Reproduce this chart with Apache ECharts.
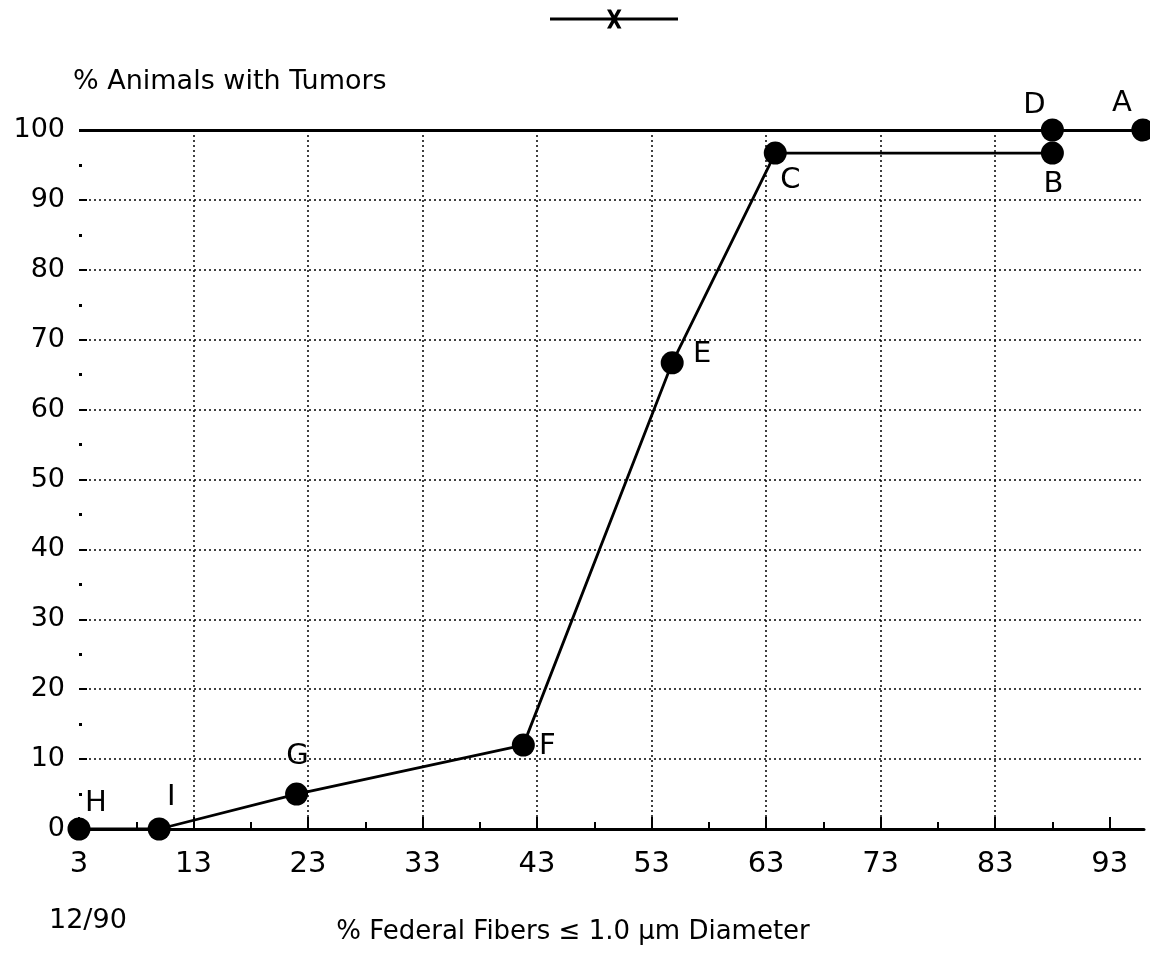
<!DOCTYPE html>
<html>
<head>
<meta charset="utf-8">
<script src="https://cdn.jsdelivr.net/npm/echarts@6/dist/echarts.min.js"></script>
<style>
  html, body { margin: 0; padding: 0; background: #fff; }
  #chart { width: 1150px; height: 959px; }
</style>
</head>
<body>
<div id="chart"></div>
<script>
// Fiber-size dose/response: % animals with tumors vs % fibers <= 1.0 um
const pointNames = ['H', 'I', 'G', 'F', 'E', 'C', 'B'];
const fiberPct   = [3, 10, 22, 41.8, 54.8, 63.8, 88];
const tumorPct   = [0, 0, 5, 12, 66.7, 96.7, 96.7];

// Groups at the 100% level
const topNames = ['D', 'A'];
const topFiber = [88, 95.9];
const topTumor = [100, 100];

const xTicks = [3, 13, 23, 33, 43, 53, 63, 73, 83, 93];
const yTicks = [0, 10, 20, 30, 40, 50, 60, 70, 80, 90, 100];

const FONT = 'DejaVu Sans';

// label offsets from each marker centre, in pixels
const labelOffset = {
  H: [17, -26], I: [12, -32], G: [1, -38], F: [24, 1], E: [30, -8],
  C: [15, 27], B: [1, 31], D: [-18, -25], A: [-21, -27]
};

function makePoints(names, xs, ys) {
  return names.map((n, i) => ({
    name: n,
    value: [xs[i], ys[i]],
    label: {
      show: true,
      formatter: n,
      position: 'inside',
      align: 'center',
      verticalAlign: 'middle',
      offset: labelOffset[n]
    }
  }));
}

const chart = echarts.init(document.getElementById('chart'));
chart.setOption({
  backgroundColor: '#ffffff',
  animation: false,
  textStyle: { fontFamily: FONT, color: '#000' },
  grid: { left: 79, right: 6, top: 130, bottom: 130 },
  legend: {
    top: 3,
    left: 545,
    itemWidth: 128,
    itemHeight: 22,
    formatter: () => '',
    data: [{
      name: 'Tumors',
      icon: 'path://M0,9.5H128V12.5H0Z M57,1.5H61L71.5,20.5H67.5Z M67.5,1.5H71.5L61,20.5H57Z',
      itemStyle: { color: '#000' }
    }]
  },
  xAxis: {
    type: 'value',
    min: 3,
    max: 96,
    interval: 10,
    name: '% Federal Fibers \u2264 1.0 \u00b5m Diameter',
    nameLocation: 'middle',
    nameGap: 90,
    nameTextStyle: { fontSize: 26, color: '#000', fontFamily: FONT, padding: [0, 77, 0, 0] },
    axisLine: { show: true, lineStyle: { color: '#000', width: 3 } },
    axisTick: { show: true, inside: true, length: 12, lineStyle: { color: '#000', width: 2 }, customValues: xTicks },
    minorTick: { show: true, splitNumber: 2, length: 7, lineStyle: { color: '#000', width: 2 } },
    axisLabel: {
      customValues: xTicks,
      fontSize: 29, color: '#000', margin: 21, fontFamily: FONT
    },
    splitLine: {
      show: true,
      showMinLine: false,
      showMaxLine: false,
      lineStyle: { color: '#000', width: 1.5, type: [2, 3] }
    }
  },
  yAxis: {
    type: 'value',
    min: 0,
    max: 100,
    interval: 10,
    name: '% Animals with Tumors',
    nameLocation: 'end',
    nameGap: 35,
    nameTextStyle: { fontSize: 27, color: '#000', fontFamily: FONT, align: 'left', padding: [0, 0, 0, -6] },
    axisLine: { show: false },
    axisTick: { show: true, inside: true, length: 8, lineStyle: { color: '#000', width: 2 } },
    minorTick: { show: true, splitNumber: 2, length: 3, lineStyle: { color: '#000', width: 3 } },
    axisLabel: { fontSize: 27, color: '#000', margin: 14, fontFamily: FONT },
    splitLine: {
      show: true,
      showMinLine: false,
      showMaxLine: false,
      lineStyle: { color: '#000', width: 1.5, type: [2, 3] }
    }
  },
  graphic: [{
    type: 'text',
    x: 49,
    y: 921,
    style: { text: '12/90', fontSize: 27, fontFamily: FONT, fill: '#000', align: 'left', verticalAlign: 'middle' }
  }],
  series: [
    {
      name: 'Tumors',
      type: 'line',
      data: makePoints(pointNames, fiberPct, tumorPct),
      symbol: 'circle',
      symbolSize: 23,
      lineStyle: { color: '#000', width: 2.8 },
      itemStyle: { color: '#000', opacity: 1 },
      label: { fontSize: 29, color: '#000', fontFamily: FONT },
      clip: false,
      markLine: {
        silent: true,
        symbol: 'none',
        label: { show: false },
        lineStyle: { color: '#000', width: 3, type: 'solid' },
        data: [{ yAxis: 100 }]
      },
      z: 3
    },
    {
      name: 'Top',
      type: 'scatter',
      data: makePoints(topNames, topFiber, topTumor),
      symbol: 'circle',
      symbolSize: 23,
      itemStyle: { color: '#000', opacity: 1 },
      label: { fontSize: 29, color: '#000', fontFamily: FONT },
      clip: false,
      z: 4
    }
  ]
});
</script>
</body>
</html>
